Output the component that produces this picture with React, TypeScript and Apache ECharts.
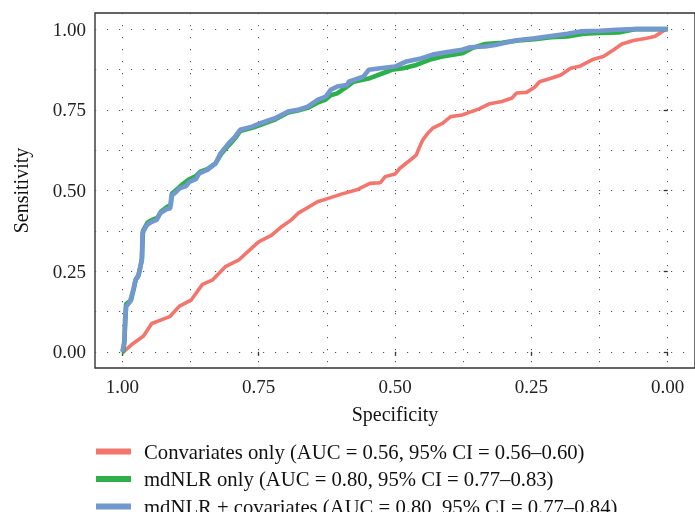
import React, { useEffect, useRef } from "react";
import * as echarts from "echarts";

const seriesNames = [
  "Convariates only (AUC = 0.56, 95% CI = 0.56–0.60)",
  "mdNLR only (AUC = 0.80, 95% CI = 0.77–0.83)",
  "mdNLR + covariates (AUC = 0.80, 95% CI = 0.77–0.84)",
];
const seriesColors = ["#F3766E", "#2DB04A", "#7398D0"];

const tickValues = [0, 0.25, 0.5, 0.75, 1];
const gridValues = [0, 0.125, 0.25, 0.375, 0.5, 0.625, 0.75, 0.875, 1];

const covSpec = [1.0, 0.998, 0.98, 0.961, 0.946, 0.913, 0.895, 0.874, 0.853, 0.835, 0.811, 0.787, 0.75, 0.726, 0.708, 0.69, 0.678, 0.642, 0.618, 0.6, 0.57, 0.546, 0.527, 0.518, 0.5, 0.491, 0.476, 0.461, 0.456, 0.449, 0.44, 0.431, 0.413, 0.398, 0.377, 0.359, 0.347, 0.326, 0.304, 0.286, 0.277, 0.259, 0.244, 0.235, 0.214, 0.196, 0.178, 0.16, 0.136, 0.118, 0.099, 0.084, 0.063, 0.039, 0.024, 0.012, 0.003, 0.0];
const covSens = [0.0, 0.0, 0.026, 0.049, 0.088, 0.109, 0.142, 0.16, 0.209, 0.222, 0.264, 0.284, 0.341, 0.362, 0.388, 0.409, 0.429, 0.465, 0.478, 0.488, 0.502, 0.522, 0.524, 0.543, 0.551, 0.569, 0.589, 0.61, 0.631, 0.657, 0.677, 0.693, 0.708, 0.729, 0.734, 0.745, 0.752, 0.769, 0.776, 0.786, 0.802, 0.804, 0.82, 0.837, 0.848, 0.858, 0.879, 0.886, 0.907, 0.915, 0.936, 0.954, 0.965, 0.972, 0.977, 0.99, 1.0, 1.0];

const nlrSpec = [1.0, 0.998, 0.996, 0.994, 0.993, 0.984, 0.979, 0.975, 0.97, 0.966, 0.964, 0.962, 0.954, 0.944, 0.935, 0.929, 0.917, 0.911, 0.909, 0.899, 0.889, 0.877, 0.865, 0.857, 0.844, 0.829, 0.818, 0.805, 0.793, 0.784, 0.762, 0.744, 0.72, 0.696, 0.678, 0.66, 0.642, 0.627, 0.618, 0.606, 0.588, 0.576, 0.546, 0.515, 0.506, 0.485, 0.461, 0.437, 0.413, 0.377, 0.359, 0.335, 0.304, 0.274, 0.244, 0.214, 0.184, 0.154, 0.124, 0.088, 0.06, 0.0];
const nlrSens = [0.0, 0.0, 0.04, 0.11, 0.148, 0.16, 0.195, 0.225, 0.238, 0.27, 0.29, 0.375, 0.4, 0.41, 0.416, 0.435, 0.45, 0.455, 0.49, 0.505, 0.52, 0.535, 0.545, 0.558, 0.566, 0.584, 0.615, 0.64, 0.662, 0.684, 0.694, 0.705, 0.72, 0.742, 0.748, 0.756, 0.772, 0.782, 0.795, 0.801, 0.822, 0.837, 0.848, 0.868, 0.874, 0.879, 0.889, 0.905, 0.915, 0.925, 0.941, 0.954, 0.958, 0.965, 0.969, 0.975, 0.977, 0.986, 0.988, 0.99, 1.0, 1.0];

const bothSpec = [1.0, 0.999, 0.996, 0.995, 0.993, 0.986, 0.98, 0.976, 0.971, 0.967, 0.964, 0.963, 0.955, 0.946, 0.937, 0.931, 0.919, 0.912, 0.91, 0.901, 0.895, 0.883, 0.877, 0.865, 0.859, 0.844, 0.829, 0.82, 0.805, 0.793, 0.784, 0.762, 0.744, 0.72, 0.696, 0.678, 0.66, 0.642, 0.627, 0.618, 0.606, 0.588, 0.585, 0.558, 0.548, 0.527, 0.5, 0.479, 0.455, 0.431, 0.407, 0.377, 0.362, 0.335, 0.316, 0.298, 0.28, 0.244, 0.214, 0.184, 0.16, 0.124, 0.094, 0.063, 0.0];
const bothSens = [0.0, 0.0, 0.03, 0.098, 0.14, 0.155, 0.191, 0.222, 0.233, 0.264, 0.284, 0.367, 0.393, 0.403, 0.409, 0.429, 0.442, 0.445, 0.483, 0.496, 0.507, 0.514, 0.527, 0.535, 0.553, 0.564, 0.584, 0.615, 0.646, 0.667, 0.688, 0.698, 0.71, 0.724, 0.745, 0.75, 0.76, 0.781, 0.791, 0.812, 0.822, 0.827, 0.837, 0.853, 0.874, 0.879, 0.884, 0.9, 0.908, 0.921, 0.928, 0.936, 0.944, 0.946, 0.951, 0.958, 0.965, 0.972, 0.979, 0.986, 0.993, 0.995, 0.998, 1.0, 1.0];

const FONT = "'Liberation Serif', 'DejaVu Serif', serif";

function pairs(xs: number[], ys: number[]) {
  return xs.map((x, i) => [x, ys[i]]);
}

export default function App() {
  const ref = useRef<HTMLDivElement>(null);
  useEffect(() => {
    if (!ref.current) return;
    const chart = echarts.init(ref.current, undefined, { renderer: "svg" });
    const grid = {
      show: true,
      left: 95,
      top: 13,
      right: -8,
      bottom: 144,
      borderColor: "#333333",
      borderWidth: 1.4,
      backgroundColor: "transparent",
    };
    const gridLine = {
      show: true,
      lineStyle: { color: "#555555", width: 1, type: [1.2, 10.8] as any },
    };
    const baseAxis = {
      type: "value" as const,
      min: -0.05,
      max: 1.05,
      axisLine: { show: false },
      splitLine: { show: false },
    };
    const datas = [pairs(covSpec, covSens), pairs(nlrSpec, nlrSens), pairs(bothSpec, bothSens)];
    const widths = [3.6, 4.6, 4.6];
    chart.setOption({
      animation: false,
      textStyle: { fontFamily: FONT },
      grid,
      xAxis: [
        {
          ...baseAxis,
          inverse: true,
          position: "bottom",
          name: "Specificity",
          nameLocation: "middle",
          nameGap: 36,
          nameTextStyle: { fontSize: 20, color: "#111", fontFamily: FONT },
          axisTick: { show: true, length: 4, customValues: tickValues, lineStyle: { color: "#333", width: 1.3 } },
          axisLabel: {
            show: true,
            margin: 9,
            fontSize: 19,
            color: "#222",
            fontFamily: FONT,
            customValues: tickValues,
            formatter: (v: number) => v.toFixed(2),
          },
        },
        {
          ...baseAxis,
          inverse: true,
          position: "top",
          axisTick: { show: false, customValues: gridValues },
          axisLabel: { show: false, customValues: gridValues },
          splitLine: gridLine,
        },
      ],
      yAxis: [
        {
          ...baseAxis,
          position: "left",
          name: "Sensitivity",
          nameLocation: "middle",
          nameGap: 64,
          nameRotate: 90,
          nameTextStyle: { fontSize: 20, color: "#111", fontFamily: FONT },
          axisTick: { show: true, length: 4, customValues: tickValues, lineStyle: { color: "#333", width: 1.3 } },
          axisLabel: {
            show: true,
            margin: 9,
            fontSize: 19,
            color: "#222",
            fontFamily: FONT,
            customValues: tickValues,
            formatter: (v: number) => v.toFixed(2),
          },
        },
        {
          ...baseAxis,
          position: "right",
          axisTick: { show: false, customValues: gridValues },
          axisLabel: { show: false, customValues: gridValues },
          splitLine: gridLine,
        },
      ],
      legend: {
        orient: "vertical",
        left: 91,
        top: 436,
        height: 140,
        width: 620,
        icon: "rect",
        itemWidth: 35,
        itemHeight: 6,
        itemGap: 6.5,
        data: seriesNames,
        textStyle: { fontSize: 20.7, lineHeight: 21, color: "#111", fontFamily: FONT, padding: [0, 0, 0, 8] },
      },
      series: seriesNames.map((name, i) => ({
        name,
        type: "line",
        xAxisIndex: 0,
        yAxisIndex: 0,
        data: datas[i],
        color: seriesColors[i],
        showSymbol: false,
        symbol: "none",
        lineStyle: { color: seriesColors[i], width: widths[i] },
        z: 2 + i,
      })),
    });
    return () => chart.dispose();
  }, []);
  return <div ref={ref} style={{ position: "fixed", left: 0, top: 0, width: 695, height: 512 }} />;
}
